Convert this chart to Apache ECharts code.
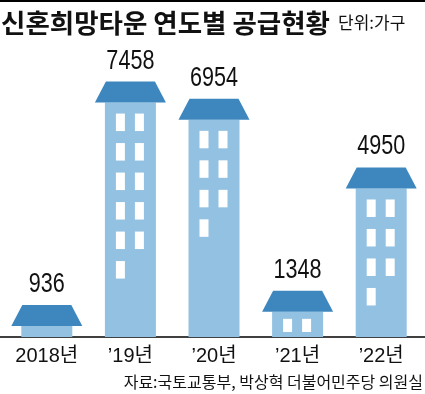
<!DOCTYPE html>
<html>
<head>
<meta charset="utf-8">
<script src="https://cdn.jsdelivr.net/npm/echarts@6/dist/echarts.min.js"></script>
<style>
  html, body { margin: 0; padding: 0; background: #fff; }
  #chart { width: 425px; height: 394px; }
</style>
</head>
<body>
<div id="chart"></div>
<script>
// ---- data ----
const categories = ['2018년', '’19년', '’20년', '’21년', '’22년'];
const supplyValues = [936, 7458, 6954, 1348, 4950];
const windowCounts = [0, 11, 7, 2, 7];
const titleText = '신혼희망타운 연도별 공급현황';
const unitText = '단위:가구';
const sourceText = '자료:국토교통부, 박상혁 더불어민주당 의원실';

const ROOF = '#3d87be';
const BODY = '#92c1e1';
const NUM_FONT = '"Liberation Sans Narrow", "Liberation Sans", "Noto Sans CJK KR", sans-serif';
const KR_FONT = '"Noto Sans CJK KR", sans-serif';

const chart = echarts.init(document.getElementById('chart'), null, { renderer: 'canvas' });

function renderBuilding(params, api) {
  const idx = params.dataIndex;
  const v = api.value(1);
  const top = api.coord([api.value(0), v]);
  const base = api.coord([api.value(0), 0]);
  const band = api.size([1, 0])[0];
  const bw = band * 0.61;
  const cx = top[0];
  const roofH = 21;
  const roofBottom = top[1] + roofH;
  const children = [];
  children.push({
    type: 'rect',
    shape: { x: cx - bw / 2, y: roofBottom, width: bw, height: base[1] - roofBottom },
    style: { fill: BODY }
  });
  children.push({
    type: 'polygon',
    shape: { points: [
      [cx - bw / 2 + 1, top[1]], [cx + bw / 2 - 1, top[1]],
      [cx + bw / 2 + 10, roofBottom], [cx - bw / 2 - 10, roofBottom]
    ] },
    style: { fill: ROOF }
  });
  const n = windowCounts[idx];
  for (let k = 0; k < n; k++) {
    const row = Math.floor(k / 2);
    const col = k % 2;
    const wx = col === 0 ? cx - 14.5 : cx + 4.5;
    const wy = roofBottom + (n <= 2 ? 7 : 11) + row * 29.5;
    const wh = Math.min(17.5, base[1] - 5 - wy);
    children.push({
      type: 'rect',
      shape: { x: wx, y: wy, width: 9, height: wh },
      style: { fill: '#ffffff' }
    });
  }
  children.push({
    type: 'text',
    x: cx, y: top[1] - 7,
    scaleX: 0.8,
    style: {
      x: 0, y: 0,
      text: String(v),
      align: 'center', verticalAlign: 'bottom',
      font: '27px ' + NUM_FONT,
      fill: '#111'
    }
  });
  return { type: 'group', children: children };
}

const option = {
  animation: false,
  backgroundColor: '#ffffff',
  grid: { left: 5, right: 2, top: 63, bottom: 57, containLabel: false },
  xAxis: {
    type: 'category',
    data: categories,
    axisLine: { show: false },
    axisTick: { show: false },
    axisLabel: {
      interval: 0,
      margin: 9,
      fontSize: 20,
      fontFamily: NUM_FONT,
      color: '#111'
    }
  },
  yAxis: { type: 'value', min: 0, max: 8000, show: false },
  series: [{
    type: 'custom',
    clip: false,
    renderItem: renderBuilding,
    data: supplyValues.map((v, i) => [i, v])
  }],
  graphic: [
    { type: 'rect', left: 0, top: 0, shape: { width: 425, height: 2 }, style: { fill: '#000' } },
    { type: 'line', shape: { x1: 0, y1: 337, x2: 425, y2: 337 }, style: { stroke: '#000', lineWidth: 1.5 } },
    { type: 'text', style: { x: 1, y: 23, text: titleText, font: 'bold 26.5px ' + KR_FONT, fill: '#111', verticalAlign: 'middle' } },
    { type: 'text', style: { x: 338, y: 23, text: unitText, font: '17px ' + KR_FONT, fill: '#111', verticalAlign: 'middle' } },
    { type: 'text', style: { x: 423, y: 382, text: sourceText, font: '16px ' + KR_FONT, fill: '#111', align: 'right', verticalAlign: 'middle' } }
  ]
};
chart.setOption(option);
</script>
</body>
</html>
